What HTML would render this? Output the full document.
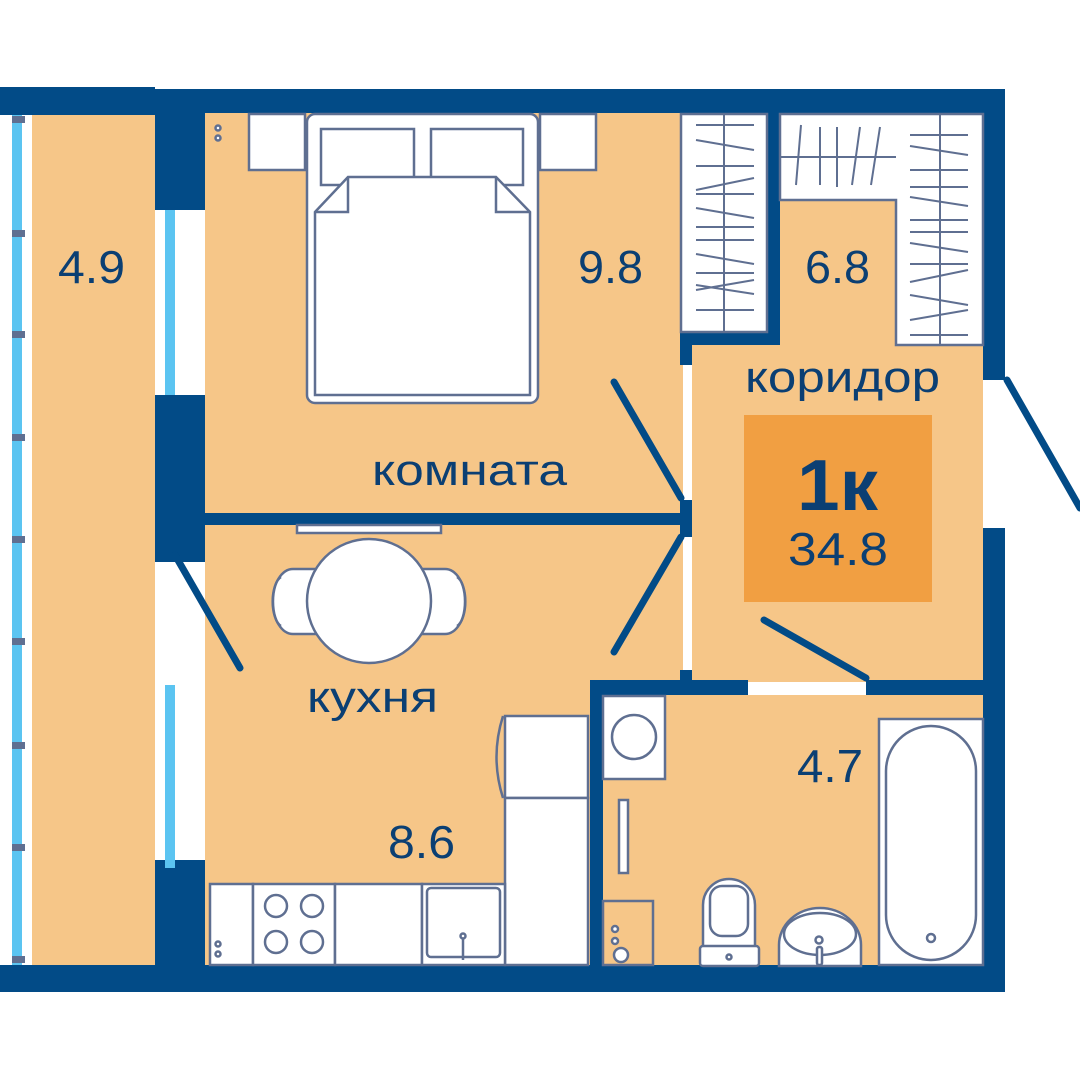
<!DOCTYPE html>
<html><head><meta charset="utf-8"><style>
html,body{margin:0;padding:0;background:#fff;width:1080px;height:1080px;overflow:hidden}
svg{display:block}
text{font-family:"Liberation Sans","DejaVu Sans",sans-serif;fill:#0b3f73}
</style></head><body>
<svg width="1080" height="1080" viewBox="0 0 1080 1080" xmlns="http://www.w3.org/2000/svg">
<rect width="1080" height="1080" fill="#fff"/>
<rect x="32" y="115" width="123" height="850" fill="#f6c688"/>
<rect x="205" y="113" width="478" height="852" fill="#f6c688"/>
<rect x="692" y="345" width="291" height="337" fill="#f6c688"/>
<rect x="780" y="200" width="116" height="150" fill="#f6c688"/>
<rect x="603" y="695" width="380" height="270" fill="#f6c688"/>
<rect x="12" y="115" width="10" height="850" fill="#5bc4f1"/>
<g fill="#5f6f91">
<rect x="12" y="116" width="13" height="7"/><rect x="12" y="230" width="13" height="7"/><rect x="12" y="331" width="13" height="7"/><rect x="12" y="434" width="13" height="7"/><rect x="12" y="536" width="13" height="7"/><rect x="12" y="638" width="13" height="7"/><rect x="12" y="742" width="13" height="7"/><rect x="12" y="844" width="13" height="7"/><rect x="12" y="956" width="13" height="7"/>
</g>
<g fill="#024b87">
<rect x="0" y="87" width="155" height="28"/>
<rect x="155" y="89" width="850" height="24"/>
<rect x="0" y="965" width="1005" height="27"/>
<rect x="983" y="89" width="22" height="291"/>
<rect x="983" y="528" width="22" height="464"/>
<rect x="155" y="113" width="50" height="97"/>
<rect x="155" y="395" width="50" height="167"/>
<rect x="155" y="860" width="50" height="110"/>
<rect x="205" y="513" width="478" height="12"/>
<rect x="767" y="113" width="13" height="232"/>
<rect x="680" y="332" width="100" height="13"/>
<rect x="680" y="345" width="12" height="20"/>
<rect x="680" y="500" width="12" height="37"/>
<rect x="680" y="670" width="12" height="12"/>
<rect x="590" y="680" width="158" height="15"/>
<rect x="866" y="680" width="117" height="15"/>
<rect x="590" y="680" width="13" height="290"/>
</g>
<rect x="165" y="210" width="10" height="185" fill="#5bc4f1"/>
<rect x="165" y="685" width="10" height="183" fill="#5bc4f1"/>
<g stroke="#024b87" stroke-width="7" stroke-linecap="round" fill="none">
<line x1="614" y1="382" x2="681" y2="498"/>
<line x1="614" y1="652" x2="681" y2="537"/>
<line x1="175" y1="555" x2="240" y2="668"/>
<line x1="764" y1="620" x2="866" y2="678"/>
<line x1="1007" y1="380" x2="1080" y2="508"/>
</g>
<g fill="#fff" stroke="#5f6f91" stroke-width="2.5">
<rect x="249" y="114" width="56" height="56"/>
<rect x="540" y="114" width="56" height="56"/>
<rect x="307" y="114" width="231" height="289" rx="8"/>
<rect x="321" y="129" width="93" height="56"/>
<rect x="431" y="129" width="92" height="56"/>
<polygon points="315,212 348,177 496,177 530,212 530,395 315,395"/>
<polyline points="315,212 348,212 348,177" fill="none"/>
<polyline points="530,212 496,212 496,177" fill="none"/>
<circle cx="218" cy="128" r="2.5"/><circle cx="218" cy="138" r="2.5"/>
<rect x="681" y="114" width="86" height="218"/>
<polygon points="780,114 983,114 983,345 896,345 896,200 780,200"/>
<rect x="297" y="525" width="144" height="8"/>
<path d="M333,569 H293 A20,32 0 0 0 293,634 H333 Z"/>
<path d="M405,569 H445 A20,32 0 0 1 445,634 H405 Z"/>
<path d="M281,577 A10,25 0 0 0 281,626"/>
<path d="M457,577 A10,25 0 0 1 457,626"/>
<circle cx="369" cy="601" r="62"/>
<rect x="505" y="716" width="83" height="82"/>
<rect x="505" y="798" width="83" height="167"/>
<path d="M503,716 Q490,757 503,798" fill="none"/>
<rect x="210" y="884" width="43" height="81"/>
<rect x="253" y="884" width="82" height="81"/>
<rect x="335" y="884" width="87" height="81"/>
<rect x="422" y="884" width="83" height="81"/>
<rect x="427" y="888" width="73" height="69" rx="4"/>
<circle cx="276" cy="906" r="11"/><circle cx="312" cy="906" r="11"/>
<circle cx="276" cy="942" r="11"/><circle cx="312" cy="942" r="11"/>
<circle cx="218" cy="944" r="2.5"/><circle cx="218" cy="954" r="2.5"/>
<line x1="463" y1="936" x2="463" y2="960"/><circle cx="463" cy="936" r="2.5"/>
<rect x="603" y="696" width="62" height="83"/>
<circle cx="634" cy="737" r="22"/>
<rect x="619" y="800" width="9" height="73"/>
<rect x="603" y="901" width="50" height="64" fill="#f6c688"/>
<circle cx="615" cy="929" r="3"/><circle cx="615" cy="941" r="3"/><circle cx="621" cy="955" r="7"/>
<path d="M703,948 V905 A26,26 0 0 1 755,905 V948 Z"/>
<rect x="710" y="886" width="38" height="50" rx="12"/>
<rect x="700" y="946" width="59" height="20" rx="3"/>
<circle cx="729" cy="957" r="2.5"/>
<path d="M779,966 V945 A41,37 0 0 1 861,945 V966 Z"/>
<ellipse cx="820" cy="934" rx="36" ry="21"/>
<circle cx="819" cy="940" r="3.5"/><rect x="817" y="947" width="5" height="18" rx="2"/>
<rect x="879" y="719" width="104" height="246"/>
<rect x="886" y="726" width="90" height="234" rx="45"/>
<circle cx="931" cy="938" r="4"/>
</g>
<g stroke="#5f6f91" stroke-width="2" fill="none">
<line x1="724" y1="114" x2="724" y2="332"/>
<path d="M696,125 H754 M696,140 L754,150 M696,166 H754 M696,190 L754,178 M696,194 H754 M696,208 L754,218 M696,227 H754 M696,240 H754 M696,254 L754,264 M696,273 H754 M696,285 L754,294 M696,310 H754 M696,290 L754,280"/>
<line x1="940" y1="114" x2="940" y2="345"/>
<path d="M910,135 H968 M910,146 L968,155 M910,170 H968 M910,187 H968 M910,197 L968,206 M910,220 H968 M910,232 H968 M910,243 L968,252 M910,264 H968 M910,282 L968,270 M910,295 L968,305 M910,320 L968,310 M910,335 H968"/>
<line x1="780" y1="157" x2="896" y2="157"/>
<path d="M801,125 L796,185 M820,127 V185 M837,127 V187 M860,127 L852,185 M880,127 L871,185"/>
</g>
<rect x="744" y="415" width="188" height="187" fill="#f19f42"/>
<text x="58" y="283" font-size="46" textLength="67" lengthAdjust="spacingAndGlyphs">4.9</text>
<text x="578" y="283" font-size="46" textLength="65" lengthAdjust="spacingAndGlyphs">9.8</text>
<text x="805" y="283" font-size="46" textLength="65" lengthAdjust="spacingAndGlyphs">6.8</text>
<text x="745" y="392" font-size="44" textLength="195" lengthAdjust="spacingAndGlyphs">коридор</text>
<text x="372" y="485" font-size="44" textLength="195" lengthAdjust="spacingAndGlyphs">комната</text>
<text x="307" y="712" font-size="44" textLength="131" lengthAdjust="spacingAndGlyphs">кухня</text>
<text x="388" y="858" font-size="46" textLength="67" lengthAdjust="spacingAndGlyphs">8.6</text>
<text x="797" y="782" font-size="46" textLength="66" lengthAdjust="spacingAndGlyphs">4.7</text>
<text x="797" y="510" font-size="72" font-weight="bold" textLength="81" lengthAdjust="spacingAndGlyphs">1к</text>
<text x="788" y="565" font-size="46" textLength="100" lengthAdjust="spacingAndGlyphs">34.8</text>
</svg>
</body></html>
